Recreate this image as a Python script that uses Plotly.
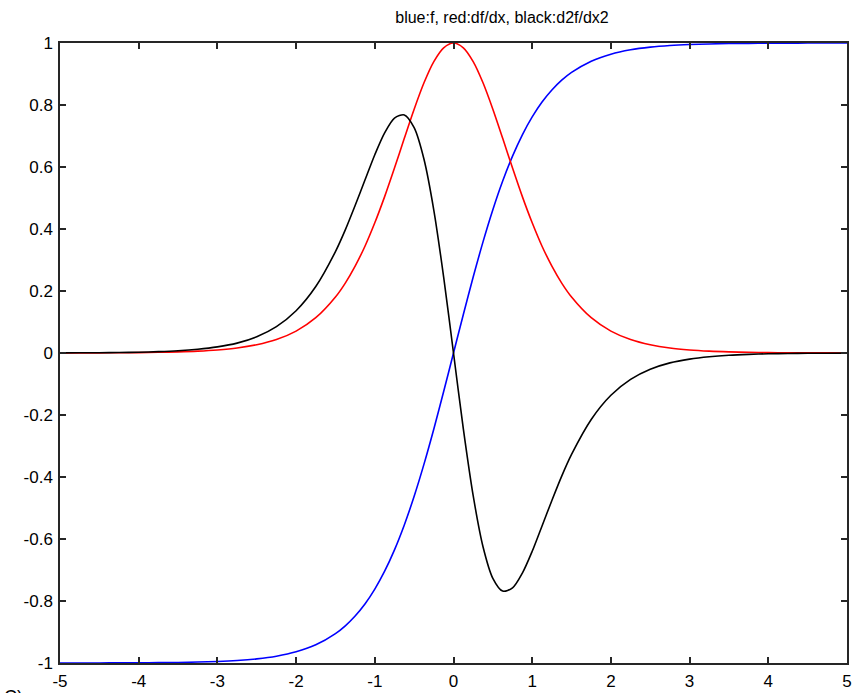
import plotly.graph_objects as go

x = [-5.0, -4.75, -4.5, -4.25, -4.0, -3.75, -3.5, -3.25, -3.0, -2.75, -2.5, -2.25, -2.0, -1.75, -1.5,
     -1.375, -1.25, -1.125, -1.0, -0.875, -0.75, -0.625, -0.5, -0.375, -0.25, -0.125,
     0.0, 0.125, 0.25, 0.375, 0.5, 0.625, 0.75, 0.875, 1.0, 1.125, 1.25, 1.375,
     1.5, 1.75, 2.0, 2.25, 2.5, 2.75, 3.0, 3.25, 3.5, 3.75, 4.0, 4.25, 4.5, 4.75, 5.0]

f = [-0.9999, -0.9999, -0.9998, -0.9996, -0.9993, -0.9989, -0.9982, -0.9970, -0.9951, -0.9919, -0.9866, -0.9780, -0.9640, -0.9414, -0.9051,
     -0.8800, -0.8483, -0.8096, -0.7616, -0.7039, -0.6351, -0.5546, -0.4621, -0.3584, -0.2449, -0.1244,
     0.0, 0.1244, 0.2449, 0.3584, 0.4621, 0.5546, 0.6351, 0.7039, 0.7616, 0.8096, 0.8483, 0.8800,
     0.9051, 0.9414, 0.9640, 0.9780, 0.9866, 0.9919, 0.9951, 0.9970, 0.9982, 0.9989, 0.9993, 0.9996, 0.9998, 0.9999, 0.9999]

dfdx = [0.0002, 0.0003, 0.0005, 0.0008, 0.0013, 0.0022, 0.0036, 0.0060, 0.0099, 0.0161, 0.0266, 0.0435, 0.0707, 0.1138, 0.1807,
        0.2256, 0.2804, 0.3445, 0.4200, 0.5045, 0.5966, 0.6924, 0.7864, 0.8716, 0.9400, 0.9845,
        1.0, 0.9845, 0.9400, 0.8716, 0.7864, 0.6924, 0.5966, 0.5045, 0.4200, 0.3445, 0.2804, 0.2256,
        0.1807, 0.1138, 0.0707, 0.0435, 0.0266, 0.0161, 0.0099, 0.0060, 0.0036, 0.0022, 0.0013, 0.0008, 0.0005, 0.0003, 0.0002]

d2fdx2 = [0.0004, 0.0006, 0.0010, 0.0016, 0.0026, 0.0044, 0.0072, 0.0120, 0.0197, 0.0319, 0.0525, 0.0851, 0.1363, 0.2143, 0.3271,
          0.3971, 0.4757, 0.5578, 0.6397, 0.7102, 0.7578, 0.7680, 0.7268, 0.6248, 0.4604, 0.2449,
          0.0, -0.2449, -0.4604, -0.6248, -0.7268, -0.7680, -0.7578, -0.7102, -0.6397, -0.5578, -0.4757, -0.3971,
          -0.3271, -0.2143, -0.1363, -0.0851, -0.0525, -0.0319, -0.0197, -0.0120, -0.0072, -0.0044, -0.0026, -0.0016, -0.0010, -0.0006, -0.0004]

x_ticks = [-5, -4, -3, -2, -1, 0, 1, 2, 3, 4, 5]
x_tick_text = ["-5", "-4", "-3", "-2", "-1", "0", "1", "2", "3", "4", "5"]
y_ticks = [-1, -0.8, -0.6, -0.4, -0.2, 0, 0.2, 0.4, 0.6, 0.8, 1]
y_tick_text = ["-1", "-0.8", "-0.6", "-0.4", "-0.2", "0", "0.2", "0.4", "0.6", "0.8", "1"]

FONT = "Liberation Sans, Arial, sans-serif"

fig = go.Figure()
fig.add_trace(go.Scatter(x=x, y=f, mode="lines", line=dict(color="#0000ff", width=1.6, shape="spline", smoothing=0.8)))
fig.add_trace(go.Scatter(x=x, y=dfdx, mode="lines", line=dict(color="#ff0000", width=1.6, shape="spline", smoothing=0.8)))
fig.add_trace(go.Scatter(x=x, y=d2fdx2, mode="lines", line=dict(color="#000000", width=1.6, shape="spline", smoothing=0.8)))

axis_common = dict(
    showgrid=False, zeroline=False, showline=True, linecolor="#262626", linewidth=1.5,
    mirror="ticks", ticks="inside", ticklen=6, tickcolor="#262626", tickwidth=1.5,
    automargin=False, ticklabeloverflow="allow",
    tickfont=dict(family=FONT, size=17, color="#000000"),
)

fig.update_layout(
    width=855, height=693,
    margin=dict(l=60, r=8, t=43, b=30, autoexpand=False),
    paper_bgcolor="white", plot_bgcolor="white",
    showlegend=False,
    title=dict(text="blue:f, red:df/dx, black:d2f/dx2", x=502/855, xanchor="center", y=1 - 17/693, yanchor="middle",
               xref="container", yref="container", font=dict(family=FONT, size=16, color="#000000")),
    xaxis=dict(range=[-5, 5], tickvals=x_ticks, ticktext=x_tick_text, ticklabelstandoff=2, **axis_common),
    yaxis=dict(range=[-1, 1], tickvals=y_ticks, ticktext=y_tick_text, ticklabelstandoff=2, **axis_common),
)
fig.add_annotation(text="C)", xref="paper", yref="paper", x=-58/787, y=-22/620, xanchor="left", yanchor="top",
                   showarrow=False, font=dict(family=FONT, size=18, color="#000000"))

fig.write_html("out.html",
               config={"displayModeBar": False},
               post_script="document.body.style.margin='0';document.body.style.overflow='hidden';")
